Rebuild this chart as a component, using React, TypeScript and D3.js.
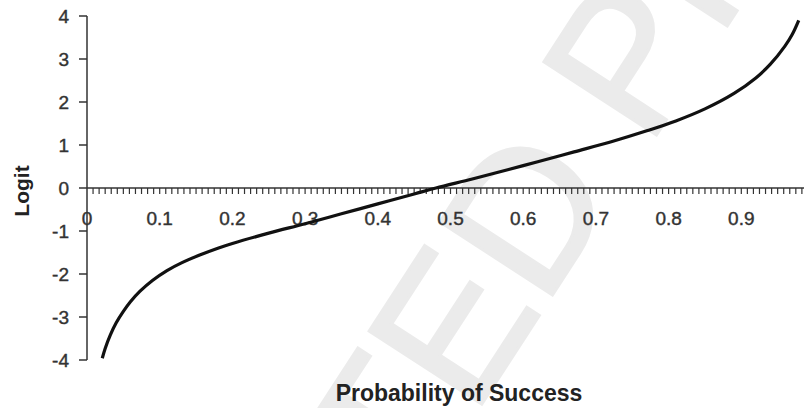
import React, { useEffect, useRef } from 'react'
import * as d3 from 'd3'

// values
const probabilities = [0.021, 0.025, 0.032, 0.04, 0.05, 0.06, 0.073, 0.09, 0.11, 0.13, 0.155, 0.18, 0.2, 0.25, 0.3, 0.35, 0.4, 0.45, 0.48, 0.53, 0.58, 0.62, 0.67, 0.72, 0.77, 0.81, 0.85, 0.89, 0.92, 0.94, 0.96, 0.97, 0.979]
const logits = [-3.96, -3.73, -3.42, -3.14, -2.87, -2.64, -2.4, -2.15, -1.92, -1.74, -1.56, -1.4, -1.29, -1.05, -0.83, -0.6, -0.37, -0.14, 0, 0.21, 0.43, 0.61, 0.84, 1.07, 1.33, 1.56, 1.84, 2.2, 2.56, 2.88, 3.3, 3.57, 3.9]
const xTickLabels = [0, 0.1, 0.2, 0.3, 0.4, 0.5, 0.6, 0.7, 0.8, 0.9]
const yTickLabels = [-4, -3, -2, -1, 0, 1, 2, 3, 4]

export default function App() {
  const ref = useRef<SVGSVGElement>(null)

  useEffect(() => {
    const width = 804
    const height = 408
    const svg = d3.select(ref.current)
    svg.selectAll('*').remove()

    const x = d3.scaleLinear().domain([0, 1]).range([87, 814])
    const y = d3.scaleLinear().domain([-4, 4]).range([360, 16])
    const font = 'Liberation Sans, Arial, sans-serif'

    // faint watermark behind the chart
    const wm = svg.append('g')
      .attr('transform', 'translate(625,62) rotate(-57)')
      .attr('fill', '#ebebeb')
      .attr('stroke', '#ebebeb')
      .attr('stroke-width', 3)
      .attr('font-family', font)
      .attr('font-size', 195)
    wm.append('text').attr('x', -110).attr('y', 66).attr('text-anchor', 'end').text('UNCORRECTED')
    wm.append('text').attr('x', -60).attr('y', 66).attr('text-anchor', 'start').text('PROOF')

    // y axis
    const yAxis = svg.append('g').attr('stroke', '#333').attr('stroke-width', 1.5)
    yAxis.append('line')
      .attr('x1', x(0)).attr('x2', x(0))
      .attr('y1', y(4)).attr('y2', y(-4))
    yAxis.selectAll('line.tick')
      .data(yTickLabels)
      .join('line')
      .attr('class', 'tick')
      .attr('x1', x(0) - 8).attr('x2', x(0))
      .attr('y1', d => y(d)).attr('y2', d => y(d))

    svg.append('g')
      .attr('font-family', font)
      .attr('font-size', 19)
      .attr('fill', '#333')
      .attr('stroke', '#333')
      .attr('stroke-width', 0.4)
      .attr('text-anchor', 'end')
      .selectAll('text')
      .data(yTickLabels)
      .join('text')
      .attr('x', 69)
      .attr('y', d => y(d))
      .attr('dy', '0.35em')
      .text(d => d)

    // x axis sits on logit = 0
    const xAxis = svg.append('g').attr('stroke', '#333')
    xAxis.append('line')
      .attr('stroke-width', 1.5)
      .attr('x1', x(0)).attr('x2', width)
      .attr('y1', y(0)).attr('y2', y(0))
    xAxis.selectAll('line.minor')
      .data(d3.range(1, 120).map(i => i / 120).filter(v => x(v) <= width))
      .join('line')
      .attr('class', 'minor')
      .attr('stroke-width', 1.2)
      .attr('x1', d => x(d)).attr('x2', d => x(d))
      .attr('y1', y(0)).attr('y2', y(0) + 6)

    svg.append('g')
      .attr('font-family', font)
      .attr('font-size', 19)
      .attr('fill', '#333')
      .attr('stroke', '#333')
      .attr('stroke-width', 0.4)
      .attr('text-anchor', 'middle')
      .selectAll('text')
      .data(xTickLabels)
      .join('text')
      .attr('x', d => x(d))
      .attr('y', 225)
      .text(d => d)

    // the curve
    const line = d3.line<number>()
      .x((d, i) => x(probabilities[i]))
      .y(d => y(d))
      .curve(d3.curveCatmullRom.alpha(0.5))
    svg.append('path')
      .datum(logits)
      .attr('fill', 'none')
      .attr('stroke', '#111')
      .attr('stroke-width', 3.2)
      .attr('d', line)

    // titles
    svg.append('text')
      .attr('x', 459)
      .attr('y', 401)
      .attr('text-anchor', 'middle')
      .attr('font-family', font)
      .attr('font-weight', 'bold')
      .attr('font-size', 23)
      .attr('fill', '#222')
      .text('Probability of Success')

    svg.append('text')
      .attr('transform', 'translate(29,191) rotate(-90)')
      .attr('text-anchor', 'middle')
      .attr('font-family', font)
      .attr('font-weight', 'bold')
      .attr('font-size', 21)
      .attr('fill', '#222')
      .text('Logit')

    svg.attr('width', width).attr('height', height)
  }, [])

  return (
    <svg ref={ref} width={804} height={408}
      style={{ position: 'absolute', left: 0, top: 0, background: '#fff' }} />
  )
}
